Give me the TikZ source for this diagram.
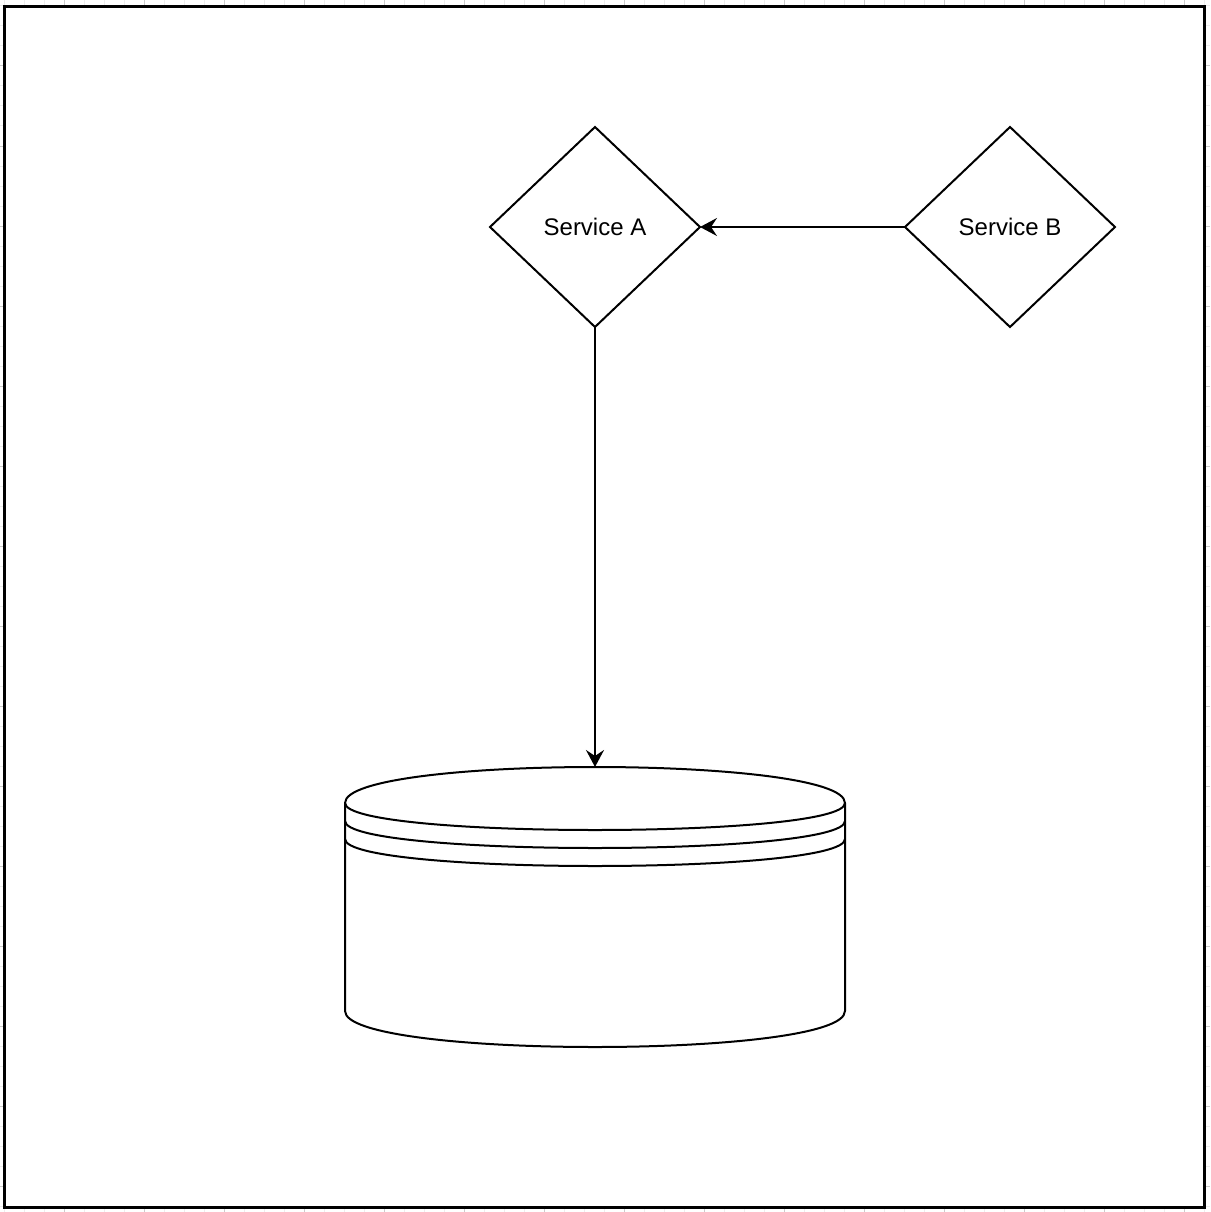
\documentclass[tikz,border=0pt]{standalone}
\usepackage{fontspec}
\setmainfont{Liberation Sans}
\usetikzlibrary{shapes.geometric,arrows.meta}
\begin{document}
\begin{tikzpicture}[x=1pt,y=-1pt,
  svc/.style={diamond,draw,line width=2pt,minimum width=210pt,minimum height=200pt,
    inner sep=0pt,outer sep=0pt,aspect=1,font=\fontsize{24}{28}\selectfont},
  conn/.style={draw,line width=2pt,-{Stealth[length=17pt,width=18pt,inset=6pt]}},
  shapeline/.style={draw,line width=2pt,line join=round},
  gridminor/.style={draw=black!7,line width=1pt},
  gridmajor/.style={draw=black!20,line width=1pt},
  framebox/.style={draw,line width=3pt,fill=white,minimum width=1200pt,minimum height=1200pt,inner sep=0pt,outer sep=0pt}]
\useasboundingbox (0,0) rectangle (1210,1212);
\fill[white] (0,0) rectangle (1210,1212);
\foreach \x in {4,24,...,1204} \draw[gridminor] (\x,0) -- (\x,1212);
\foreach \y in {6,26,...,1206} \draw[gridminor] (0,\y) -- (1210,\y);
\foreach \x in {64,144,...,1184} \draw[gridmajor] (\x,0) -- (\x,1212);
\foreach \y in {66,146,...,1186} \draw[gridmajor] (0,\y) -- (1210,\y);
\node[framebox] (frame) at (604.5,607) {};

\node[svc] (a) at (595,227) {Service A};
\node[svc] (b) at (1010,227) {Service B};
\node[rectangle,inner sep=0pt,outer sep=0pt,minimum width=500pt,minimum height=280pt] (db) at (595,907) {};
\begin{scope}[shift={(db.north west)}]
  \path[shapeline,fill=white] (0,36) .. controls (0,-12) and (500,-12) .. (500,36)
    -- (500,244) .. controls (500,292) and (0,292) .. (0,244) -- cycle;
  \path[shapeline] (0,36) .. controls (0,72) and (500,72) .. (500,36);
  \path[shapeline] (0,54) .. controls (0,90) and (500,90) .. (500,54);
  \path[shapeline] (0,72) .. controls (0,108) and (500,108) .. (500,72);
\end{scope}

\path[conn] (b.west) -- (a.east);
\path[conn] (a.south) -- (db.north);
\end{tikzpicture}
\end{document}
